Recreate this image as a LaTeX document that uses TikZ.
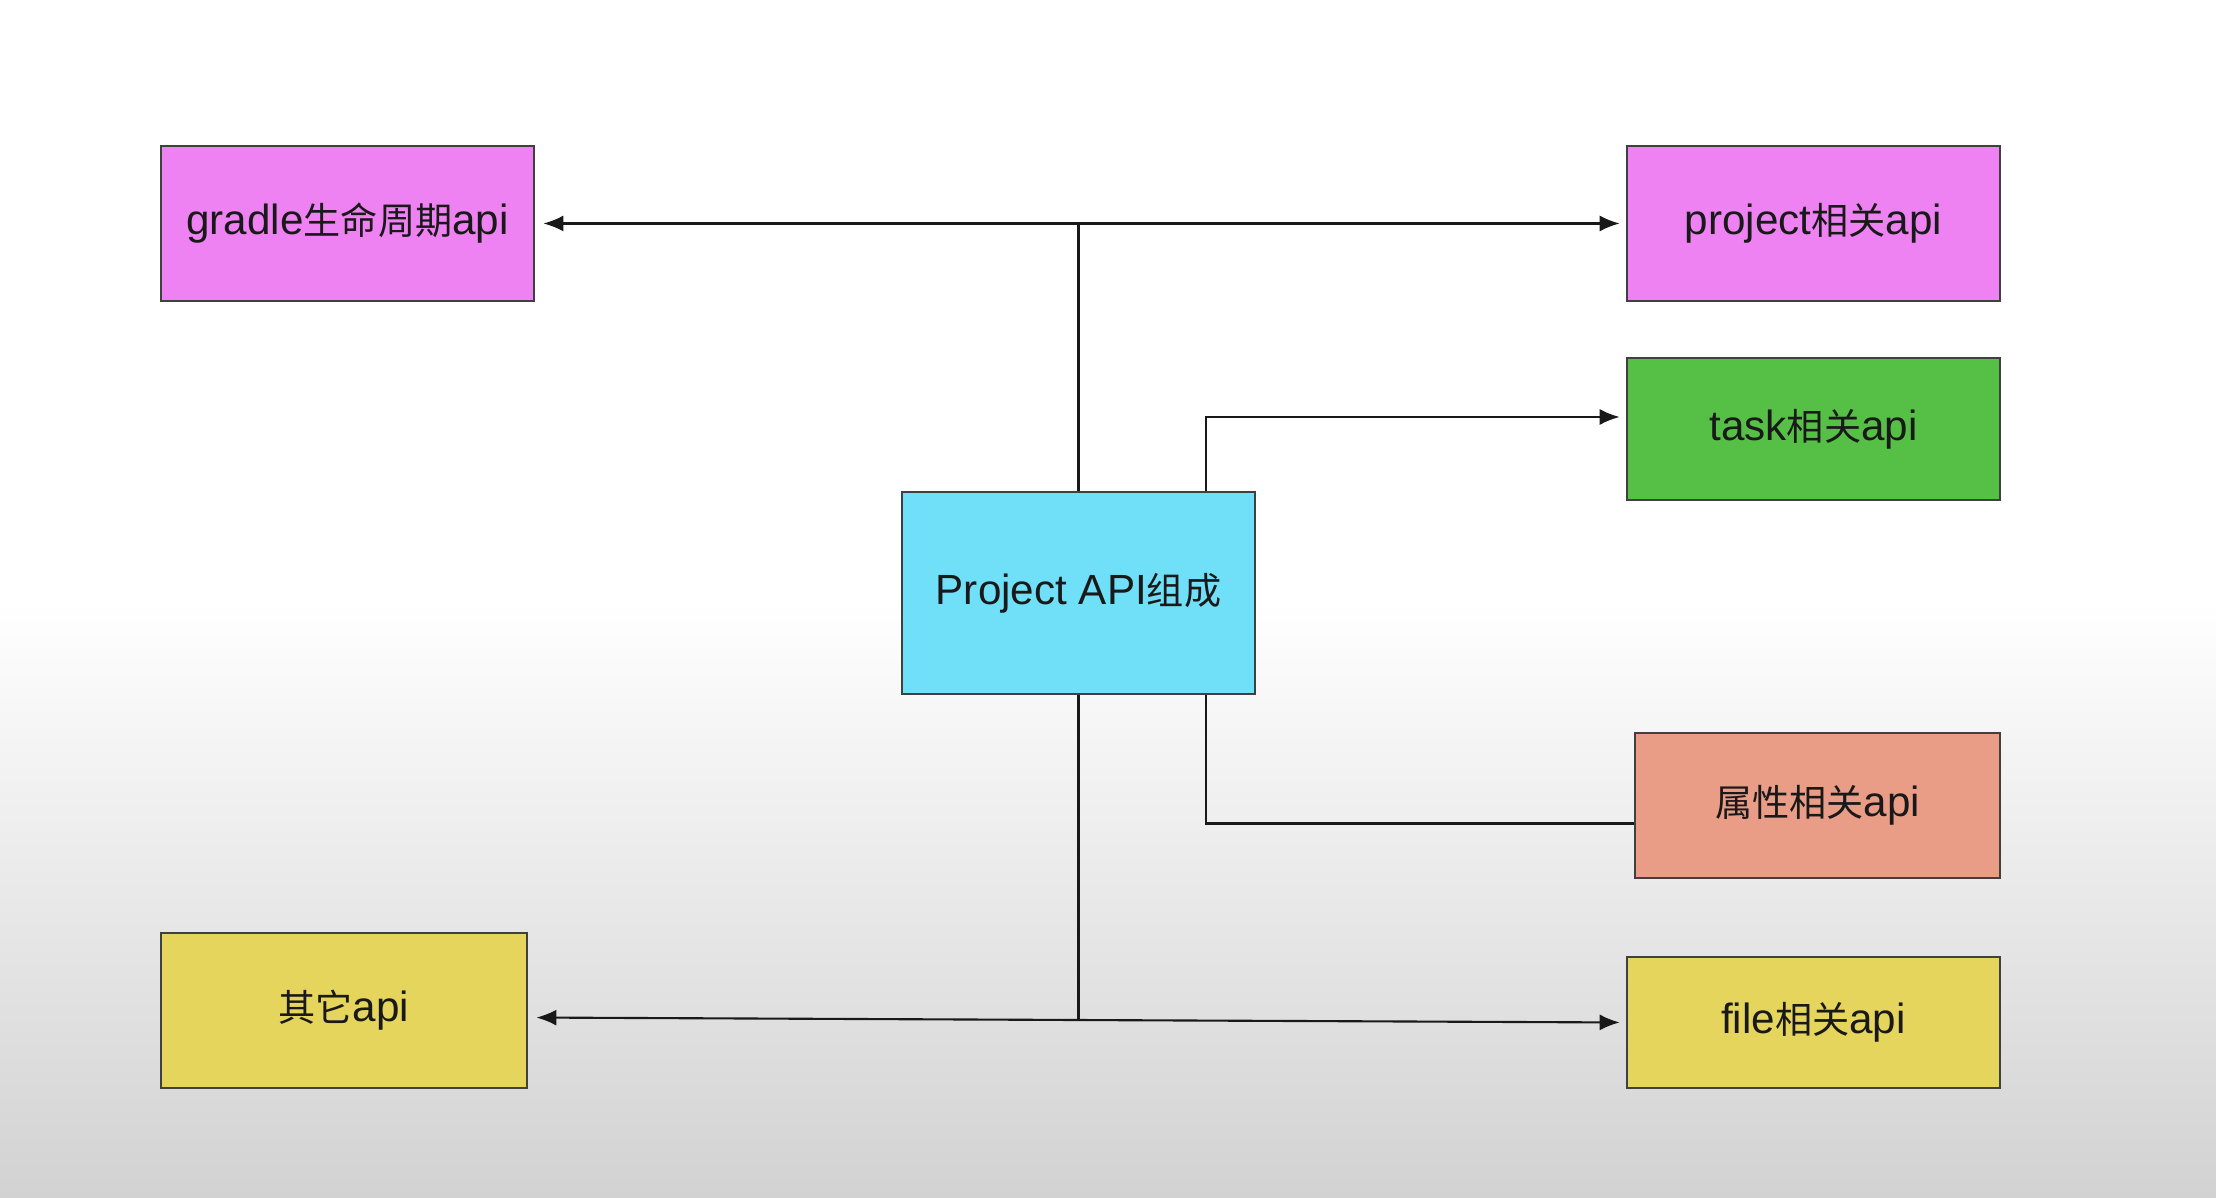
\documentclass[tikz,border=0pt]{standalone}
\usepackage{fontspec}
\setmainfont{Liberation Sans}
\newfontfamily\cjk[Scale=0.88]{Noto Sans CJK SC}
\usetikzlibrary{arrows.meta}
\definecolor{apiPink}{RGB}{238,130,242}
\definecolor{apiGreen}{RGB}{86,192,70}
\definecolor{apiCyan}{RGB}{112,223,248}
\definecolor{apiSalmon}{RGB}{233,157,135}
\definecolor{apiYellow}{RGB}{229,213,92}
\definecolor{bgGray}{RGB}{210,210,210}

\tikzset{
  apibox/.style={draw=black!75, line width=0.7pt, inner sep=0pt,
    font=\fontsize{12}{14}\selectfont, text=black!90},
  link/.style={line width=0.6pt, draw=black!90},
  headed/.style={-{Latex[length=0.2cm,width=0.16cm]}, shorten >=0.06cm},
  bothheaded/.style={{Latex[length=0.2cm,width=0.16cm]}-{Latex[length=0.2cm,width=0.16cm]},
    shorten >=0.06cm, shorten <=0.08cm},
}

\begin{document}
\begin{tikzpicture}[x=0.01cm, y=-0.01cm]
    \useasboundingbox (0,0) rectangle (2216,1198);
    % background
    \fill[white] (0,0) rectangle (2216,1198);
    \shade[top color=white, bottom color=bgGray] (0,600) rectangle (2216,1198);

    \node[apibox, fill=apiPink, minimum width=3.73cm, minimum height=1.55cm]
        (gradle) at (347.5,223.5) {gradle{\cjk 生命周期}api};
    \node[apibox, fill=apiPink, minimum width=3.73cm, minimum height=1.55cm]
        (project) at (1813.5,223.5) {project{\cjk 相关}api};
    \node[apibox, fill=apiGreen, minimum width=3.73cm, minimum height=1.42cm]
        (task) at (1813.5,429) {task{\cjk 相关}api};
    \node[apibox, fill=apiCyan, minimum width=3.53cm, minimum height=2.02cm]
        (api) at (1078.5,593) {Project API{\cjk 组成}};
    \node[apibox, fill=apiSalmon, minimum width=3.65cm, minimum height=1.45cm]
        (prop) at (1817.5,805.5) {{\cjk 属性相关}api};
    \node[apibox, fill=apiYellow, minimum width=3.66cm, minimum height=1.55cm]
        (other) at (344,1010.5) {{\cjk 其它}api};
    \node[apibox, fill=apiYellow, minimum width=3.73cm, minimum height=1.31cm]
        (file) at (1813.5,1022.5) {file{\cjk 相关}api};

    % top
    \draw[link, bothheaded] (gradle.east) -- (project.west);
    \draw[link] (api.north) -- (api.north |- gradle.east);
    \draw[link, headed] ([xshift=1.275cm]api.north) |- ([yshift=0.12cm]task.west);
    % bottom
    \draw[link] ([xshift=1.275cm]api.south) |- ([yshift=-0.18cm]prop.west);
    \draw[link, bothheaded] ([yshift=-0.07cm]other.east) -- (file.west);
    \draw[link] (api.south) -- ([yshift=0.03cm]api.south |- file.west);
\end{tikzpicture}
\end{document}
